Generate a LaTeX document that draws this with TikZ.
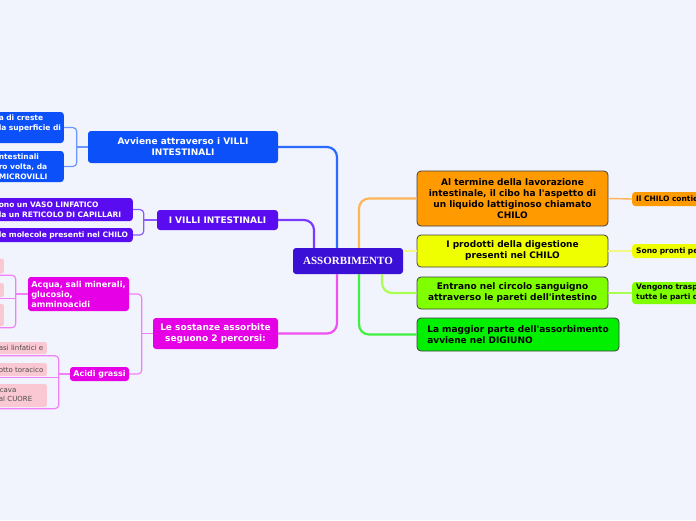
\documentclass[tikz,border=0pt]{standalone}
\usepackage{fontspec}
\setmainfont{DejaVu Sans}
\newfontfamily\rootfont{Liberation Serif}
\definecolor{bgC}{HTML}{F2F4FD}
\definecolor{rootC}{HTML}{3A0FD6}
\definecolor{blueN}{HTML}{0B50F8}
\definecolor{purpleN}{HTML}{5A0CF0}
\definecolor{magN}{HTML}{E500E5}
\definecolor{pinkN}{HTML}{FAC8D2}
\definecolor{orangeN}{HTML}{FF9A00}
\definecolor{yellowN}{HTML}{F0FF00}
\definecolor{lgreenN}{HTML}{80FF00}
\definecolor{greenN}{HTML}{00F000}
\definecolor{blueL}{HTML}{2A6AFF}
\definecolor{purpleL}{HTML}{7A3AFF}
\definecolor{magL}{HTML}{F050F0}
\definecolor{orangeL}{HTML}{FFB458}
\definecolor{yellowL}{HTML}{F2F880}
\definecolor{lgreenL}{HTML}{A8FF50}
\definecolor{greenL}{HTML}{40F040}
\definecolor{blueL2}{HTML}{6A96FF}
\definecolor{purpleL2}{HTML}{8A5AFF}
\definecolor{magL2}{HTML}{F080F8}
\begin{document}
\begin{tikzpicture}[x=1pt,y=-1pt,
  bigtxt/.style={font=\bfseries\fontsize{9}{11}\selectfont},
  smalltxt/.style={font=\bfseries\fontsize{7.5}{10}\selectfont},
  mainR/.style={bigtxt, draw=black!75, line width=0.8pt, rounded corners=4pt, align=center, text=black, inner sep=0pt},
  mainL/.style={bigtxt, rounded corners=3pt, align=center, text=white, inner sep=0pt},
  leftcut/.style={smalltxt, rounded corners=3pt, text=white, anchor=east, inner xsep=4pt, inner ysep=0pt, align=left},
  rightcut/.style={smalltxt, rounded corners=3pt, text=black, anchor=west, inner xsep=4pt, inner ysep=0pt, align=left, text width=76pt},
  pinkbox/.style={fill=pinkN, rounded corners=2pt, font=\fontsize{7}{9}\selectfont, text=black!70, anchor=east, inner xsep=3pt, inner ysep=0pt, align=left},
  mainline/.style={line width=2.2pt, rounded corners=10pt},
  subline/.style={line width=1.2pt, rounded corners=4pt}
]
\useasboundingbox (0,0) rectangle (696,520);
\fill[bgC] (0,0) rectangle (696,520);
\clip (0,0) rectangle (696,520);

% central
\node[fill=rootC, rounded corners=3pt, minimum width=110pt, minimum height=26pt, inner sep=0pt,
  text=white, font=\rootfont\bfseries\fontsize{11}{13}\selectfont] (root) at (348,261) {ASSORBIMENTO};

% right side
\node[mainR, fill=orangeN, minimum width=191pt, minimum height=55pt] (at) at (512.5,198.5)
  {Al termine della lavorazione\\intestinale, il cibo ha l\textquotesingle aspetto di\\un liquido lattiginoso chiamato\\CHILO};
\node[mainR, fill=yellowN, minimum width=191pt, minimum height=32pt] (ip) at (512.5,251)
  {I prodotti della digestione\\presenti nel CHILO};
\node[mainR, fill=lgreenN, minimum width=191pt, minimum height=32pt] (en) at (512.5,293)
  {Entrano nel circolo sanguigno\\attraverso le pareti dell\textquotesingle intestino};
\node[mainR, fill=greenN, minimum width=202pt, minimum height=33pt, align=left] (lm) at (518,334.5)
  {La maggior parte dell\textquotesingle assorbimento\\avviene nel DIGIUNO};

\node[rightcut, fill=orangeN, minimum height=14pt] (chilo) at (632,199) {Il CHILO contie};
\node[rightcut, fill=yellowN, minimum height=14pt] (sono) at (632,251) {Sono pronti per};
\node[rightcut, fill=lgreenN, minimum height=22pt] (veng) at (632,293) {Vengono traspo\\tutte le parti de};

% left side: blue
\node[mainL, fill=blueN, minimum width=190pt, minimum height=32pt] (avv) at (183,147)
  {Avviene attraverso i VILLI\\INTESTINALI};
\node[leftcut, fill=blueN, text width=61pt, minimum height=31pt] (bc1) at (64,127.5)
  {\mbox{a di creste}\\\mbox{la superficie di}\\\mbox{}};
\node[leftcut, fill=blueN, text width=61pt, minimum height=31pt] (bc2) at (64,166.5)
  {\mbox{ntestinali}\\\mbox{ro volta, da}\\\mbox{MICROVILLI}};

% left side: purple
\node[mainL, fill=purpleN, minimum width=121pt, minimum height=20pt] (ivi) at (217.5,220)
  {I VILLI INTESTINALI};
\node[leftcut, fill=purpleN, text width=130pt, minimum height=23pt] (pc1) at (133,209.5)
  {\mbox{ono un VASO LINFATICO}\\\mbox{la un RETICOLO DI CAPILLARI}};
\node[leftcut, fill=purpleN, text width=130pt, minimum height=14pt] (pc2) at (133,235)
  {\mbox{le molecole presenti nel CHILO}};

% left side: magenta
\node[mainL, fill=magN, minimum width=125pt, minimum height=31pt] (ls) at (215.5,333.5)
  {Le sostanze assorbite\\seguono 2 percorsi:};
\node[mainL, fill=magN, minimum width=101pt, minimum height=34pt, align=left, font=\bfseries\fontsize{8.2}{10}\selectfont] (aq) at (78.5,294)
  {Acqua, sali minerali,\\glucosio,\\amminoacidi};
\node[mainL, fill=magN, minimum width=59pt, minimum height=14pt, font=\bfseries\fontsize{8}{10}\selectfont] (ag) at (99.5,374) {Acidi grassi};

\node[pinkbox, minimum width=16pt, minimum height=15pt] (pk1) at (4,266) {};
\node[pinkbox, minimum width=16pt, minimum height=14pt] (pk2) at (4,290) {};
\node[pinkbox, minimum width=16pt, minimum height=22pt] (pk3) at (4,315) {};
\node[pinkbox, text width=45pt, minimum height=12pt] (pk4) at (47,348) {\mbox{asi linfatici e}};
\node[pinkbox, text width=45pt, minimum height=13pt] (pk5) at (47,369.5) {\mbox{otto toracico}};
\node[pinkbox, text width=45pt, minimum height=23pt] (pk6) at (47,395.5) {\mbox{\hspace{1pt}cava}\\\mbox{al CUORE}};

% main connectors
\draw[mainline, blueL] ([xshift=-11pt]root.north) |- (avv.east);
\draw[mainline, purpleL] ([xshift=-34pt]root.north) |- (ivi.east);
\draw[mainline, orangeL] ([xshift=11pt]root.north) |- (at.west);
\draw[line width=1.4pt, yellowL] (ip.west -| root.east) -- (ip.west);
\draw[mainline, lgreenL] ([xshift=34pt]root.south) |- (en.west);
\draw[mainline, greenL] ([xshift=11pt]root.south) |- (lm.west);
\draw[mainline, magL] ([xshift=-11pt]root.south) |- (ls.east);

% right child connectors
\draw[line width=1.4pt, orangeL] (at.east) -- (chilo.west);
\draw[line width=1.2pt, yellowL] (ip.east) -- (sono.west);
\draw[line width=1.2pt, lgreenL] (en.east) -- (veng.west);

% blue bracket
\coordinate (avj) at ([xshift=-11pt]avv.west);
\draw[subline, blueL2] (avv.west) -- (avj);
\draw[subline, blueL2] (bc1.east) -| (avj) |- (bc2.east);

% purple bracket
\coordinate (ivj) at ([xshift=-13pt]ivi.west);
\draw[subline, purpleL2] (ivi.west) -- (ivj);
\draw[subline, purpleL2] (pc1.east) -| (ivj) |- (pc2.east);

% magenta bracket
\coordinate (lsj) at ([xshift=-11pt]ls.west);
\draw[subline, magL2] (ls.west) -- (lsj);
\draw[subline, magL2] (aq.east) -| (lsj) |- (ag.east);

% acqua bracket
\coordinate (aqj) at ([xshift=-12pt]aq.west);
\draw[subline, magL2] (aq.west) -- (aqj);
\draw[subline, magL2] ([yshift=-1.5pt]pk1.south west) -| (aqj) |- ([yshift=-1.5pt]pk3.south west);
\draw[subline, magL2] ([yshift=-1.5pt]pk2.south west) -- ([yshift=-1.5pt]pk2.south west -| aqj);

% acidi grassi bracket
\coordinate (agj) at ([xshift=-11pt]ag.west);
\draw[subline, magL2] (ag.west) -- (agj);
\draw[subline, magL2] ([yshift=-1.5pt]pk4.south west) -| (agj) |- ([yshift=-1.5pt]pk6.south west);
\draw[subline, magL2] ([yshift=-1.5pt]pk5.south west) -- ([yshift=-1.5pt]pk5.south west -| agj);
\end{tikzpicture}
\end{document}
